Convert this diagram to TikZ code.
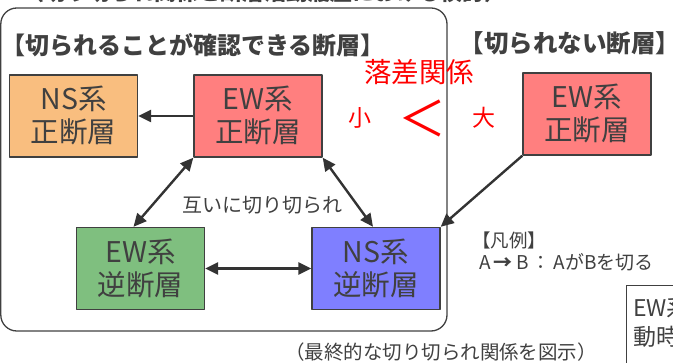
\documentclass[tikz,border=0pt]{standalone}
\usepackage{fontspec}
\setmainfont{Noto Sans CJK JP}
\usepackage{xcolor}
\usepackage{tikz}
\usetikzlibrary{arrows.meta,positioning}
\definecolor{nsnorm}{RGB}{249,190,127}
\definecolor{ewnorm}{RGB}{255,127,127}
\definecolor{ewrev}{RGB}{127,191,127}
\definecolor{nsrev}{RGB}{127,127,255}
\definecolor{ink}{RGB}{64,64,64}
\definecolor{arr}{RGB}{51,51,51}

\begin{document}
\begin{tikzpicture}[x=1pt,y=-1pt,line join=round,
  fault/.style={draw=ink,line width=1.4pt,text=ink,minimum width=128pt,minimum height=82pt,
    inner sep=0pt,align=center,font=\fontsize{28.5}{33}\selectfont},
  cut/.style={draw=arr,line width=2.4pt,-{Triangle[length=13pt,width=12pt]}},
  mutual/.style={cut,{Triangle[length=13pt,width=12pt]}-{Triangle[length=13pt,width=12pt]}},
  lbl/.style={text=ink,inner sep=0pt}]
  \useasboundingbox (0,0) rectangle (673,363);
  % clipped heading at the very top
  \node[lbl,anchor=west,font=\bfseries\fontsize{22}{26}\selectfont] (head) at (22,-8) {（切り切られ関係と断層活動履歴における検討）};
  \draw[ink,line width=1.3pt,rounded corners=16pt] (0.8,8) rectangle (447,331);
  \node[lbl,font=\bfseries\fontsize{24}{28}\selectfont] (capin) at (193,45) {【切られることが確認できる断層】};
  \node[lbl,font=\bfseries\fontsize{24.5}{28}\selectfont] (capout) at (570,43) {【切られない断層】};
  % faults
  \node[fault,fill=nsnorm] (nsN) at (73.5,116) {NS系\\正断層};
  \node[fault,fill=ewnorm] (ewN) at (258,116) {EW系\\正断層};
  \node[fault,fill=ewrev] (ewR) at (140.5,268.5) {EW系\\逆断層};
  \node[fault,fill=nsrev] (nsR) at (376,268.5) {NS系\\逆断層};
  \node[fault,fill=ewnorm] (ewX) at (587,114) {EW系\\正断層};
  % throw relation
  \node[lbl,text=red,font=\fontsize{27.5}{32}\selectfont] (throw) at (419,72) {落差関係};
  \node[lbl,text=red,font=\fontsize{23}{26}\selectfont] (small) at (360,118) {小};
  \node[lbl,text=red,font=\fontsize{48}{56}\selectfont] (less) at (422,118) {＜};
  \node[lbl,text=red,font=\fontsize{23}{26}\selectfont] (large) at (484,118) {大};
  % cross-cutting
  \draw[cut] (ewN.west) -- (nsN.east);
  \draw[mutual] (ewN.south west) -- ([xshift=-7pt]ewR.north);
  \draw[mutual] (ewN.south east) -- ([xshift=-3pt]nsR.north);
  \draw[mutual] (ewR.east) -- (nsR.west);
  \draw[cut] (ewX.south west) -- (nsR.north east);
  \node[lbl,font=\fontsize{20}{24}\selectfont] (mut) at (262,205) {互いに切り切られ};
  % legend
  \node[lbl,anchor=west,font=\fontsize{18.5}{22}\selectfont] (leg) at (472,240) {【凡例】};
  \node[lbl,anchor=west,font=\fontsize{19}{22}\selectfont] (legab) at (479,262) {A\,{\bfseries→}\,B\,：\,AがBを切る};
  \node[lbl,font=\fontsize{19.5}{23}\selectfont] (note) at (441,352) {（最終的な切り切られ関係を図示）};
  % box running off the page
  \draw[ink,line width=1pt] (626,286) rectangle (720,390);
  \node[lbl,anchor=west,font=\fontsize{23}{27}\selectfont] (ewt1) at (633,308) {EW系断層の};
  \node[lbl,anchor=west,font=\fontsize{23}{27}\selectfont] (ewt2) at (633,337) {動時期};
\end{tikzpicture}
\end{document}
